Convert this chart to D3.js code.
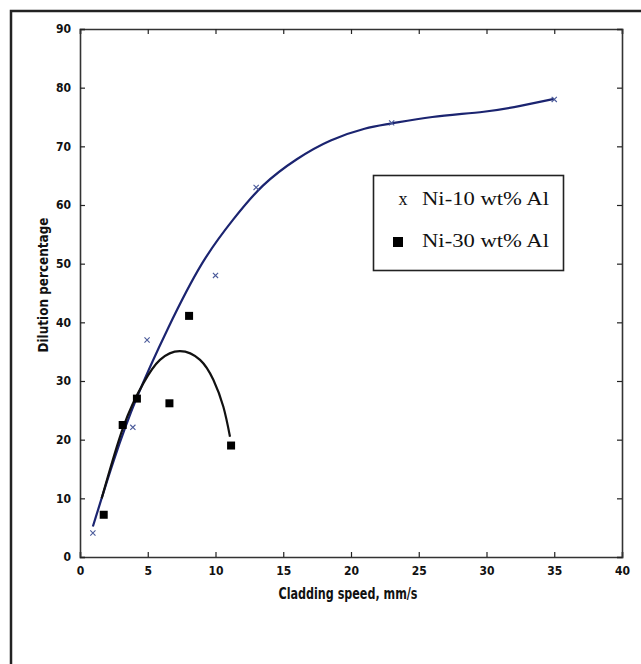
<!DOCTYPE html>
<html><head><meta charset="utf-8">
<script src="https://cdn.jsdelivr.net/npm/d3@7"></script>
<style>body{margin:0;background:#fff}svg{display:block}</style>
</head><body>
<svg id="c" width="641" height="664"></svg>
<script>
// ---- data ----
const xTicks = [0,5,10,15,20,25,30,35,40];
const yTicks = [0,10,20,30,40,50,60,70,80,90];
const ni10X = [0.95, 3.9, 4.95, 10, 13, 23, 35];
const ni10Y = [4.1, 22.1, 37, 48, 63, 74, 78];
const ni30X = [1.75, 3.15, 4.2, 6.6, 8.05, 11.15];
const ni30Y = [7.2, 22.5, 27, 26.2, 41.1, 19];
// fitted trend curves
const fit10X = [0.95, 2.5, 4.2, 6.5, 9, 11.3, 13.5, 16, 18.5, 21, 23, 26, 29.8, 32.5, 35];
const fit10Y = [5.2, 16.5, 27.2, 39, 50, 57.5, 63.3, 67.8, 71, 73, 73.9, 75, 75.9, 76.9, 78.1];
const fit30X = [1.6, 3.2, 4.67, 5.9, 7.38, 8.86, 9.84, 10.58, 11.07];
const fit30Y = [10, 22.2, 29.6, 33.6, 35.1, 33.6, 30.2, 25.6, 20.5];
const legendLabels = ["Ni-10 wt% Al", "Ni-30 wt% Al"];
const xTitle = "Cladding speed, mm/s";
const yTitle = "Dilution percentage";

const svg = d3.select("#c");
const L = 80, R = 622, T = 29, B = 557;
const x = d3.scaleLinear().domain([0,40]).range([L,R]);
const y = d3.scaleLinear().domain([0,90]).range([B,T]);

svg.append("rect").attr("width",641).attr("height",664).attr("fill","#fff");
// outer figure frame (top + left)
svg.append("path").attr("d","M11,664 V11 H641").attr("fill","none").attr("stroke","#222").attr("stroke-width",2.5);

const tickFont = "'DejaVu Sans Condensed', 'DejaVu Sans', sans-serif";
// axes
const gx = svg.append("g").attr("transform",`translate(0,${B})`)
  .call(d3.axisBottom(x).tickValues(xTicks).tickSize(-5).tickPadding(9).tickFormat(d3.format("d")));
const gxt = svg.append("g").attr("transform",`translate(0,${T})`)
  .call(d3.axisTop(x).tickValues(xTicks).tickSize(-5).tickFormat(""));
const gy = svg.append("g").attr("transform",`translate(${L},0)`)
  .call(d3.axisLeft(y).tickValues(yTicks).tickSize(-5).tickPadding(9).tickFormat(d3.format("d")));
const gyr = svg.append("g").attr("transform",`translate(${R},0)`)
  .call(d3.axisRight(y).tickValues(yTicks).tickSize(-5).tickFormat(""));
[gx,gxt,gy,gyr].forEach(g=>{
  g.select(".domain").attr("stroke","#333").attr("stroke-width",1.6);
  g.selectAll(".tick line").attr("stroke","#222").attr("stroke-width",1.2);
  g.selectAll(".tick text").attr("font-family",tickFont).attr("font-weight","bold")
   .attr("font-size",12).attr("fill","#111");
});

// titles
svg.append("text").attr("x",(L+R)/2-3).attr("y",599).attr("text-anchor","middle")
  .attr("font-family",tickFont).attr("font-weight","bold").attr("font-size",15)
  .attr("textLength",139).attr("lengthAdjust","spacingAndGlyphs").attr("fill","#111").text(xTitle);
svg.append("text").attr("transform",`translate(48,${285}) rotate(-90)`).attr("text-anchor","middle")
  .attr("font-family",tickFont).attr("font-weight","bold").attr("font-size",14)
  .attr("textLength",135).attr("lengthAdjust","spacingAndGlyphs").attr("fill","#111").text(yTitle);

// fitted curves
const line = d3.line().x(d=>x(d[0])).y(d=>y(d[1])).curve(d3.curveNatural);
svg.append("path").datum(fit10X.map((v,i)=>[v,fit10Y[i]])).attr("d",line)
  .attr("fill","none").attr("stroke","#1b2470").attr("stroke-width",2.2);
svg.append("path").datum(fit30X.map((v,i)=>[v,fit30Y[i]])).attr("d",line)
  .attr("fill","none").attr("stroke","#111").attr("stroke-width",2.2);

// markers
const s = 2.6;
svg.append("g").selectAll("path").data(ni10X.map((v,i)=>[v,ni10Y[i]])).join("path")
  .attr("d",d=>{const cx=x(d[0]),cy=y(d[1]);return `M${cx-s},${cy-s}L${cx+s},${cy+s}M${cx-s},${cy+s}L${cx+s},${cy-s}`;})
  .attr("stroke","#4a5a9a").attr("stroke-width",1.1).attr("fill","none");
const q = 8;
svg.append("g").selectAll("rect").data(ni30X.map((v,i)=>[v,ni30Y[i]])).join("rect")
  .attr("x",d=>x(d[0])-q/2).attr("y",d=>y(d[1])-q/2).attr("width",q).attr("height",q).attr("fill","#000");

// legend
svg.append("rect").attr("x",373.5).attr("y",175.5).attr("width",190).attr("height",95)
  .attr("fill","#fff").attr("stroke","#222").attr("stroke-width",1.6);
const serif = "'Liberation Serif','Times New Roman',serif";
svg.append("text").attr("x",403).attr("y",205).attr("text-anchor","middle").attr("font-family",serif)
  .attr("font-size",18).attr("fill","#111").text("x");
svg.append("rect").attr("x",393).attr("y",237).attr("width",10).attr("height",10).attr("fill","#000");
legendLabels.forEach((t,i)=>{
  svg.append("text").attr("x",422).attr("y",205+i*42).attr("font-family",serif).attr("font-size",18)
    .attr("textLength",127).attr("lengthAdjust","spacingAndGlyphs").attr("fill","#111").text(t);
});
</script>
</body></html>
